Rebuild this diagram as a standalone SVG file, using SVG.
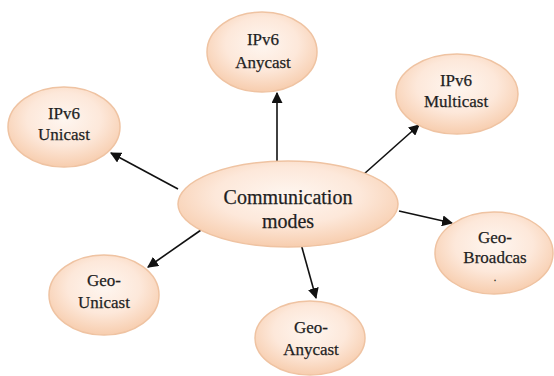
<svg xmlns="http://www.w3.org/2000/svg" width="554" height="376" viewBox="0 0 554 376">
<style>
.node ellipse{fill:url(#peach);stroke:#efc3a2;stroke-width:1.5}
text{font-family:'Liberation Serif','Times New Roman',serif;fill:#1f1f1f;stroke:#1f1f1f;stroke-width:0.25;text-anchor:middle;font-size:17px}
.big{font-size:20px}
.conn line{stroke:#111;stroke-width:1.6;marker-end:url(#arr)}
</style>
<defs>
<radialGradient id="peach" cx="50%" cy="40%" r="60%">
<stop offset="0" stop-color="#fef6f0"/>
<stop offset="0.55" stop-color="#fde8da"/>
<stop offset="1" stop-color="#f7cdae"/>
</radialGradient>
<marker id="arr" viewBox="0 0 10 10" refX="9" refY="5" markerWidth="11" markerHeight="11" markerUnits="userSpaceOnUse" orient="auto">
<path d="M0,0 L10,5 L0,10 z" fill="#111"/>
</marker>
</defs>
<rect width="554" height="376" fill="#fff"/>
<g class="conn">
<line x1="277" y1="166" x2="277" y2="93"/>
<line x1="364" y1="174" x2="419" y2="125"/>
<line x1="178" y1="189" x2="111" y2="153"/>
<line x1="399" y1="211" x2="452" y2="223"/>
<line x1="201" y1="230" x2="148" y2="267"/>
<line x1="301" y1="244" x2="316" y2="298"/>
</g>
<g id="ipv6-anycast" class="node"><ellipse cx="262" cy="52" rx="55" ry="40"/><text x="263" y="45">IPv6</text><text x="263" y="68">Anycast</text></g>
<g id="ipv6-multicast" class="node"><ellipse cx="457" cy="94" rx="61" ry="40"/><text x="456" y="86">IPv6</text><text x="456" y="107">Multicast</text></g>
<g id="ipv6-unicast" class="node"><ellipse cx="64" cy="127" rx="56" ry="40"/><text x="64" y="119">IPv6</text><text x="64" y="140">Unicast</text></g>
<g id="comm" class="node"><ellipse cx="288" cy="204" rx="110" ry="43"/><text class="big" x="288" y="204">Communication</text><text class="big" x="288" y="228">modes</text></g>
<g id="geo-broadcast" class="node"><ellipse cx="494" cy="253" rx="59" ry="41"/><text x="495" y="243">Geo-</text><text x="495" y="263">Broadcas</text><text x="495" y="281" style="font-size:10px">.</text></g>
<g id="geo-unicast" class="node"><ellipse cx="104" cy="295" rx="55" ry="40"/><text x="104" y="286">Geo-</text><text x="104" y="308">Unicast</text></g>
<g id="geo-anycast" class="node"><ellipse cx="310" cy="338" rx="55" ry="37"/><text x="311" y="333">Geo-</text><text x="311" y="355">Anycast</text></g>
</svg>
